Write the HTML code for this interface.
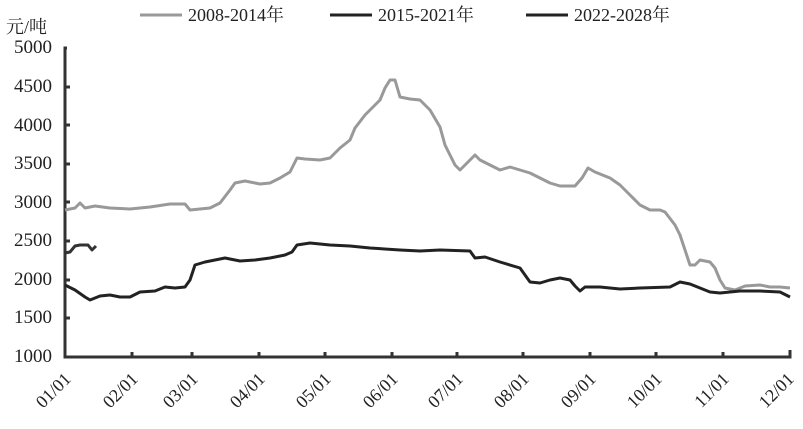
<!DOCTYPE html><html><head><meta charset="utf-8"><style>body{margin:0;background:#fff}svg text{font-family:"Liberation Serif","Noto Serif CJK SC",serif;fill:#222}</style></head><body>
<svg width="803" height="424" viewBox="0 0 803 424" xmlns="http://www.w3.org/2000/svg">
<g font-size="18">
<line x1="140" y1="15" x2="182" y2="15" stroke="#999" stroke-width="3"/><text x="188" y="21">2008-2014年</text>
<line x1="330" y1="15" x2="372" y2="15" stroke="#222" stroke-width="3"/><text x="378" y="21">2015-2021年</text>
<line x1="526" y1="15" x2="568" y2="15" stroke="#222" stroke-width="3"/><text x="574" y="21">2022-2028年</text>
<text x="6" y="33">元/吨</text>
</g>
<g font-size="19" text-anchor="end">
<text x="52" y="53">5000</text><text x="52" y="92">4500</text><text x="52" y="131">4000</text><text x="52" y="169">3500</text><text x="52" y="208">3000</text><text x="52" y="246">2500</text><text x="52" y="285">2000</text><text x="52" y="323">1500</text><text x="52" y="362">1000</text>
</g>
<g stroke="#333" stroke-width="3" fill="none">
<polyline points="67,48 65,48 65,357 790,357 790,350"/>
<path d="M65,87h5M65,125h5M65,164h5M65,202h5M65,241h5M65,280h5M65,318h5M132,357v-5M192,357v-5M259,357v-5M325,357v-5M392,357v-5M457,357v-5M523,357v-5M590,357v-5M656,357v-5M723,357v-5"/>
</g>
<g font-size="18">
<text transform="translate(72,380) rotate(-45)" text-anchor="end">01/01</text>
<text transform="translate(139,380) rotate(-45)" text-anchor="end">02/01</text>
<text transform="translate(199,380) rotate(-45)" text-anchor="end">03/01</text>
<text transform="translate(266,380) rotate(-45)" text-anchor="end">04/01</text>
<text transform="translate(332,380) rotate(-45)" text-anchor="end">05/01</text>
<text transform="translate(399,380) rotate(-45)" text-anchor="end">06/01</text>
<text transform="translate(464,380) rotate(-45)" text-anchor="end">07/01</text>
<text transform="translate(530,380) rotate(-45)" text-anchor="end">08/01</text>
<text transform="translate(597,380) rotate(-45)" text-anchor="end">09/01</text>
<text transform="translate(663,380) rotate(-45)" text-anchor="end">10/01</text>
<text transform="translate(730,380) rotate(-45)" text-anchor="end">11/01</text>
<text transform="translate(795,380) rotate(-45)" text-anchor="end">12/01</text>
</g>
<polyline fill="none" stroke="#999" stroke-width="3" stroke-linejoin="round" points="65,210 75,208 80,203 85,208 95,206 110,208 130,209 150,207 170,204 185,204 190,210 200,209 210,208 220,203 230,190 235,183 245,181 260,184 270,183 280,178 290,172 297,158 305,159 320,160 330,158 340,148 350,140 355,128 365,115 375,105 380,100 385,88 390,80 395,80 400,97 410,99 420,100 430,110 440,127 445,145 455,165 460,170 470,160 475,155 480,160 490,165 500,170 510,167 520,170 530,173 540,178 550,183 560,186 575,186 582,178 588,168 595,172 610,178 620,185 630,195 640,205 650,210 660,210 665,212 675,225 680,235 685,250 690,265 695,265 700,260 710,262 715,268 720,280 725,288 735,290 745,286 760,285 770,287 780,287 790,288"/>
<polyline fill="none" stroke="#222" stroke-width="3" stroke-linejoin="round" points="65,285 75,290 85,297 90,300 100,296 110,295 120,297 130,297 140,292 155,291 165,287 175,288 185,287 190,280 195,265 205,262 215,260 225,258 240,261 255,260 270,258 285,255 292,252 297,245 310,243 330,245 350,246 370,248 400,250 420,251 440,250 470,251 475,258 485,257 500,262 520,268 530,282 540,283 550,280 560,278 570,280 575,286 580,291 585,287 600,287 620,289 640,288 670,287 680,282 690,284 700,288 710,292 720,293 740,291 760,291 780,292 790,297"/>
<polyline fill="none" stroke="#333" stroke-width="3" stroke-linejoin="round" points="65,253 70,252 75,246 80,245 88,245 92,250 96,246"/>
</svg></body></html>
